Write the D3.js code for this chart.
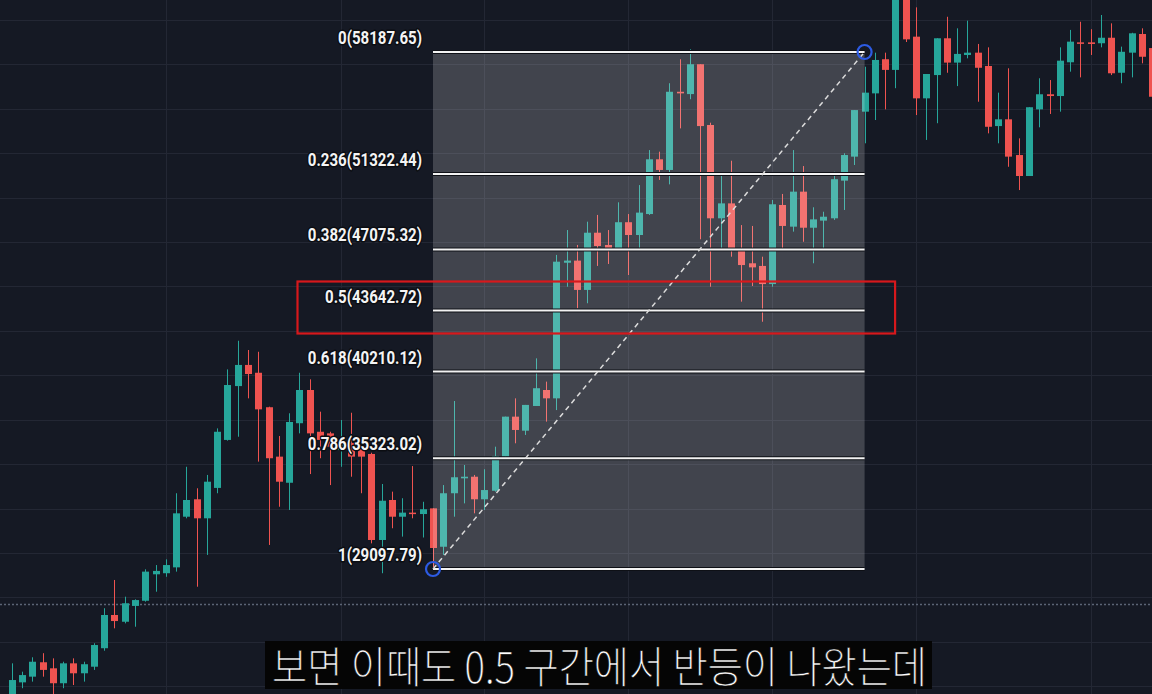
<!DOCTYPE html>
<html>
<head>
<meta charset="utf-8">
<script src="https://cdn.jsdelivr.net/npm/d3@7"></script>
<style>
  html, body { margin: 0; padding: 0; background: #151924; overflow: hidden; }
  svg { display: block; }
</style>
</head>
<body>
<svg id="chart" width="1152" height="694"></svg>
<script>
// Daily OHLC candles, oldest first
const opens = [21730,22720,23040,23850,23510,22670,23790,23230,23600,24640,26510,26130,27020,27310,28800,28860,29190,32040,33020,31950,33660,36360,39390,40580,40140,38200,35420,33950,37300,39170,36820,36730,35790,36190,35890,35570,30730,32980,32040,32270,32190,
  32510,30350,33360,34200,34290,33020,33500,35420,37670,36880,38270,39170,38700,46330,46450,44800,48020,47330,47140,48610,47890,49070,52150,51550,55950,55820,57500,54080,48830,49670,47140,46300,46150,45130,49580,48360,50330,48300,48700,48830,50950,52300,54830,
  55860,57780,57180,61400,59050,55580,56890,58960,57590,58020,58150,57400,54020,54400,52390,51210,54960,55810,55710,57610,58730,58730,58680,58990,57020,58150,59200,58410];
const highs = [23790,23320,24130,24360,24070,23880,24070,23880,24920,26890,28480,27540,27390,29080,29320,29640,33360,34850,33640,34390,37010,40330,41940,41420,41320,38230,36580,37860,40140,39770,37950,36820,37480,37890,35910,35640,33880,33450,33080,34890,32880,
  32510,33820,38550,34950,34390,34710,35980,37670,38700,38330,40950,39640,46770,48170,47330,48640,49020,48170,49730,49070,50700,52670,52580,56430,57780,58340,57500,54210,51400,52070,48450,48400,46670,49860,50200,52670,51770,49450,49200,51450,52490,54920,57360,
  58150,58150,62240,61960,60700,56950,58960,60170,59520,59950,58640,58450,55900,57270,53330,55080,56710,56610,58450,59430,59890,59470,60270,59800,58490,59270,59520,59430];
const lows = [21450,22390,22760,23040,21730,22390,22570,22760,23420,24500,25760,26040,25850,27260,27820,28660,28950,31950,28100,29890,33360,36320,36540,38700,35140,30450,32600,32420,36730,34440,35330,33820,34850,34290,33360,30540,28860,31390,30920,31950,30870,
  29097.79,29890,32040,32790,32230,32420,33450,35380,36170,36640,38270,37390,38040,44980,43770,44050,46150,46260,47090,45640,47140,49020,50990,50740,53890,55530,47650,44980,47140,46670,44140,45020,43010,44980,47140,48080,47510,46300,47140,48740,49300,51830,53050,
  54360,54960,56150,58750,54640,53240,54180,57020,56270,57830,55390,53610,53050,51730,50420,51210,53950,54700,54830,57080,56760,58020,58450,56890,56430,56760,57550,55210];
const closes = [22850,23130,23880,23420,22670,23790,23230,23740,24820,26510,26170,27170,27350,28950,28990,29320,32230,32980,31950,34010,36820,39450,40580,40070,38080,35330,34010,37370,39170,36730,36360,35980,36360,35420,35420,30730,32940,32040,32270,32190,32460,
  30280,33360,34260,34290,33020,33540,35460,37670,36920,38330,39270,38700,46390,46450,44800,48020,47270,47140,48610,47890,49150,52150,51550,55950,55860,57500,54020,48830,49670,47140,46200,46070,45130,49620,48400,50330,48300,48770,48920,51030,52390,54920,55900,
  57740,57180,61680,58900,55580,56950,58960,57590,58080,58150,57300,53980,54400,52300,51210,55080,55810,55710,57700,58770,58650,58640,58990,56990,58200,59240,57920,55670];

// Fibonacci retracement drawn from the swing low to the swing high
const fibRatios = [0, 0.236, 0.382, 0.5, 0.618, 0.786, 1];
const fibHigh = 58187.65;
const fibLow = 29097.79;
const fibStartIndex = 41;
const fibEndIndex = 83;
const highlightRatio = 0.5;

// Price grid step, time grid candle positions and the dotted last-price line
const priceGridStep = 2500;
const timeGridIndices = [15, 32, 46, 60, 74, 88, 105];
const lastPrice = 27130;

const subtitle = "보면 이때도 0.5 구간에서 반등이 나왔는데";

const W = 1152, H = 694;
const svg = d3.select("#chart");

const candles = opens.map((o, i) => ({ i, o, h: highs[i], l: lows[i], c: closes[i] }));

const x = d3.scaleLinear().domain([0, candles.length - 1]).range([11.7, 1152.3]);
const y = d3.scaleLinear().domain([fibLow, fibHigh]).range([569, 52]);

const UP = "#26a69a", DOWN = "#ef5350";

svg.append("rect").attr("width", W).attr("height", H).attr("fill", "#151924");

// grid
const gridPrices = d3.range(15000, 65001, priceGridStep)
  .filter(p => y(p) > -2 && y(p) < H + 2);
const grid = svg.append("g").attr("stroke", "#232734").attr("stroke-width", 1);
grid.selectAll("line.h").data(gridPrices).join("line").attr("class", "h")
  .attr("x1", 0).attr("x2", W)
  .attr("y1", d => Math.round(y(d)) + 0.5).attr("y2", d => Math.round(y(d)) + 0.5);
grid.selectAll("line.v").data(timeGridIndices).join("line").attr("class", "v")
  .attr("y1", 0).attr("y2", H)
  .attr("x1", d => Math.round(x(d)) + 0.5).attr("x2", d => Math.round(x(d)) + 0.5);

// dotted last-price line
svg.append("line")
  .attr("x1", 0).attr("x2", W)
  .attr("y1", Math.round(y(lastPrice)) + 0.5).attr("y2", Math.round(y(lastPrice)) + 0.5)
  .attr("stroke", "#5b6475").attr("stroke-width", 1.5).attr("stroke-dasharray", "2,2");

// candles
const bodyW = 7;
const cg = svg.append("g");
const cs = cg.selectAll("g").data(candles).join("g")
  .attr("fill", d => d.c >= d.o ? UP : DOWN)
  .attr("stroke", d => d.c >= d.o ? UP : DOWN);
cs.append("line")
  .attr("x1", d => Math.round(x(d.i)) + 0.5).attr("x2", d => Math.round(x(d.i)) + 0.5)
  .attr("y1", d => y(d.h)).attr("y2", d => y(d.l))
  .attr("stroke-width", 1);
cs.append("rect")
  .attr("stroke", "none")
  .attr("x", d => Math.round(x(d.i)) + 0.5 - bodyW / 2)
  .attr("width", bodyW)
  .attr("y", d => y(Math.max(d.o, d.c)))
  .attr("height", d => Math.max(1.5, Math.abs(y(d.o) - y(d.c))));

// fibonacci retracement
const fx0 = x(fibStartIndex), fx1 = x(fibEndIndex);
const levels = fibRatios.map(r => ({ r, p: fibHigh - r * (fibHigh - fibLow) }));
const fib = svg.append("g");
fib.append("rect")
  .attr("x", fx0).attr("width", fx1 - fx0)
  .attr("y", y(fibHigh)).attr("height", y(fibLow) - y(fibHigh))
  .attr("fill", "rgba(255,255,255,0.19)");
fib.selectAll("line.sh").data(levels).join("line").attr("class", "sh")
  .attr("x1", fx0).attr("x2", fx1)
  .attr("y1", d => y(d.p)).attr("y2", d => y(d.p))
  .attr("stroke", "#0e1016").attr("stroke-width", 4);
fib.selectAll("line.lv").data(levels).join("line").attr("class", "lv")
  .attr("x1", fx0).attr("x2", fx1)
  .attr("y1", d => y(d.p)).attr("y2", d => y(d.p))
  .attr("stroke", "#f2f2f2").attr("stroke-width", 2);
// level labels: narrow, tall bold figures right-aligned left of the box
fib.selectAll("text").data(levels).join("text")
  .attr("transform", d => `translate(${fx0 - 11},${y(d.p) - 8}) scale(0.86,1)`)
  .attr("text-anchor", "end")
  .attr("font-family", "Roboto, 'Liberation Sans', sans-serif")
  .attr("font-weight", 700).attr("font-size", 17.5)
  .attr("fill", "#f4f4f4").attr("stroke", "#0b0d12").attr("stroke-width", 3)
  .attr("paint-order", "stroke").attr("stroke-linejoin", "round")
  .text(d => `${d.r}(${d.p.toFixed(2)})`);

// trend line between the anchors
fib.append("line")
  .attr("x1", fx0).attr("y1", y(fibLow)).attr("x2", fx1).attr("y2", y(fibHigh))
  .attr("stroke", "#dcdcdc").attr("stroke-width", 1.5).attr("stroke-dasharray", "5,4");
fib.selectAll("circle").data([[fibStartIndex, fibLow], [fibEndIndex, fibHigh]]).join("circle")
  .attr("cx", d => x(d[0])).attr("cy", d => y(d[1])).attr("r", 7)
  .attr("fill", "none").attr("stroke", "#2d5be3").attr("stroke-width", 2.2);

// highlight box around the 0.5 level
const hy = y(fibHigh - highlightRatio * (fibHigh - fibLow));
svg.append("rect")
  .attr("x", fx0 - 135.5).attr("y", hy - 29)
  .attr("width", fx1 - fx0 + 166).attr("height", 52)
  .attr("fill", "none").attr("stroke", "#d7181c").attr("stroke-width", 2.2);

// caption: thin white lettering on a black strip
svg.append("rect").attr("x", 265).attr("y", 641).attr("width", 667).attr("height", 48).attr("fill", "#050505");
svg.append("text")
  .attr("x", 272).attr("y", 683)
  .attr("font-family", "'Noto Sans CJK KR', sans-serif")
  .attr("font-weight", 200).attr("font-size", 43)
  .attr("fill", "#ffffff")
  .attr("stroke", "#050505").attr("stroke-width", 0.5)
  .attr("textLength", 655).attr("lengthAdjust", "spacingAndGlyphs")
  .text(subtitle);
</script>
</body>
</html>
